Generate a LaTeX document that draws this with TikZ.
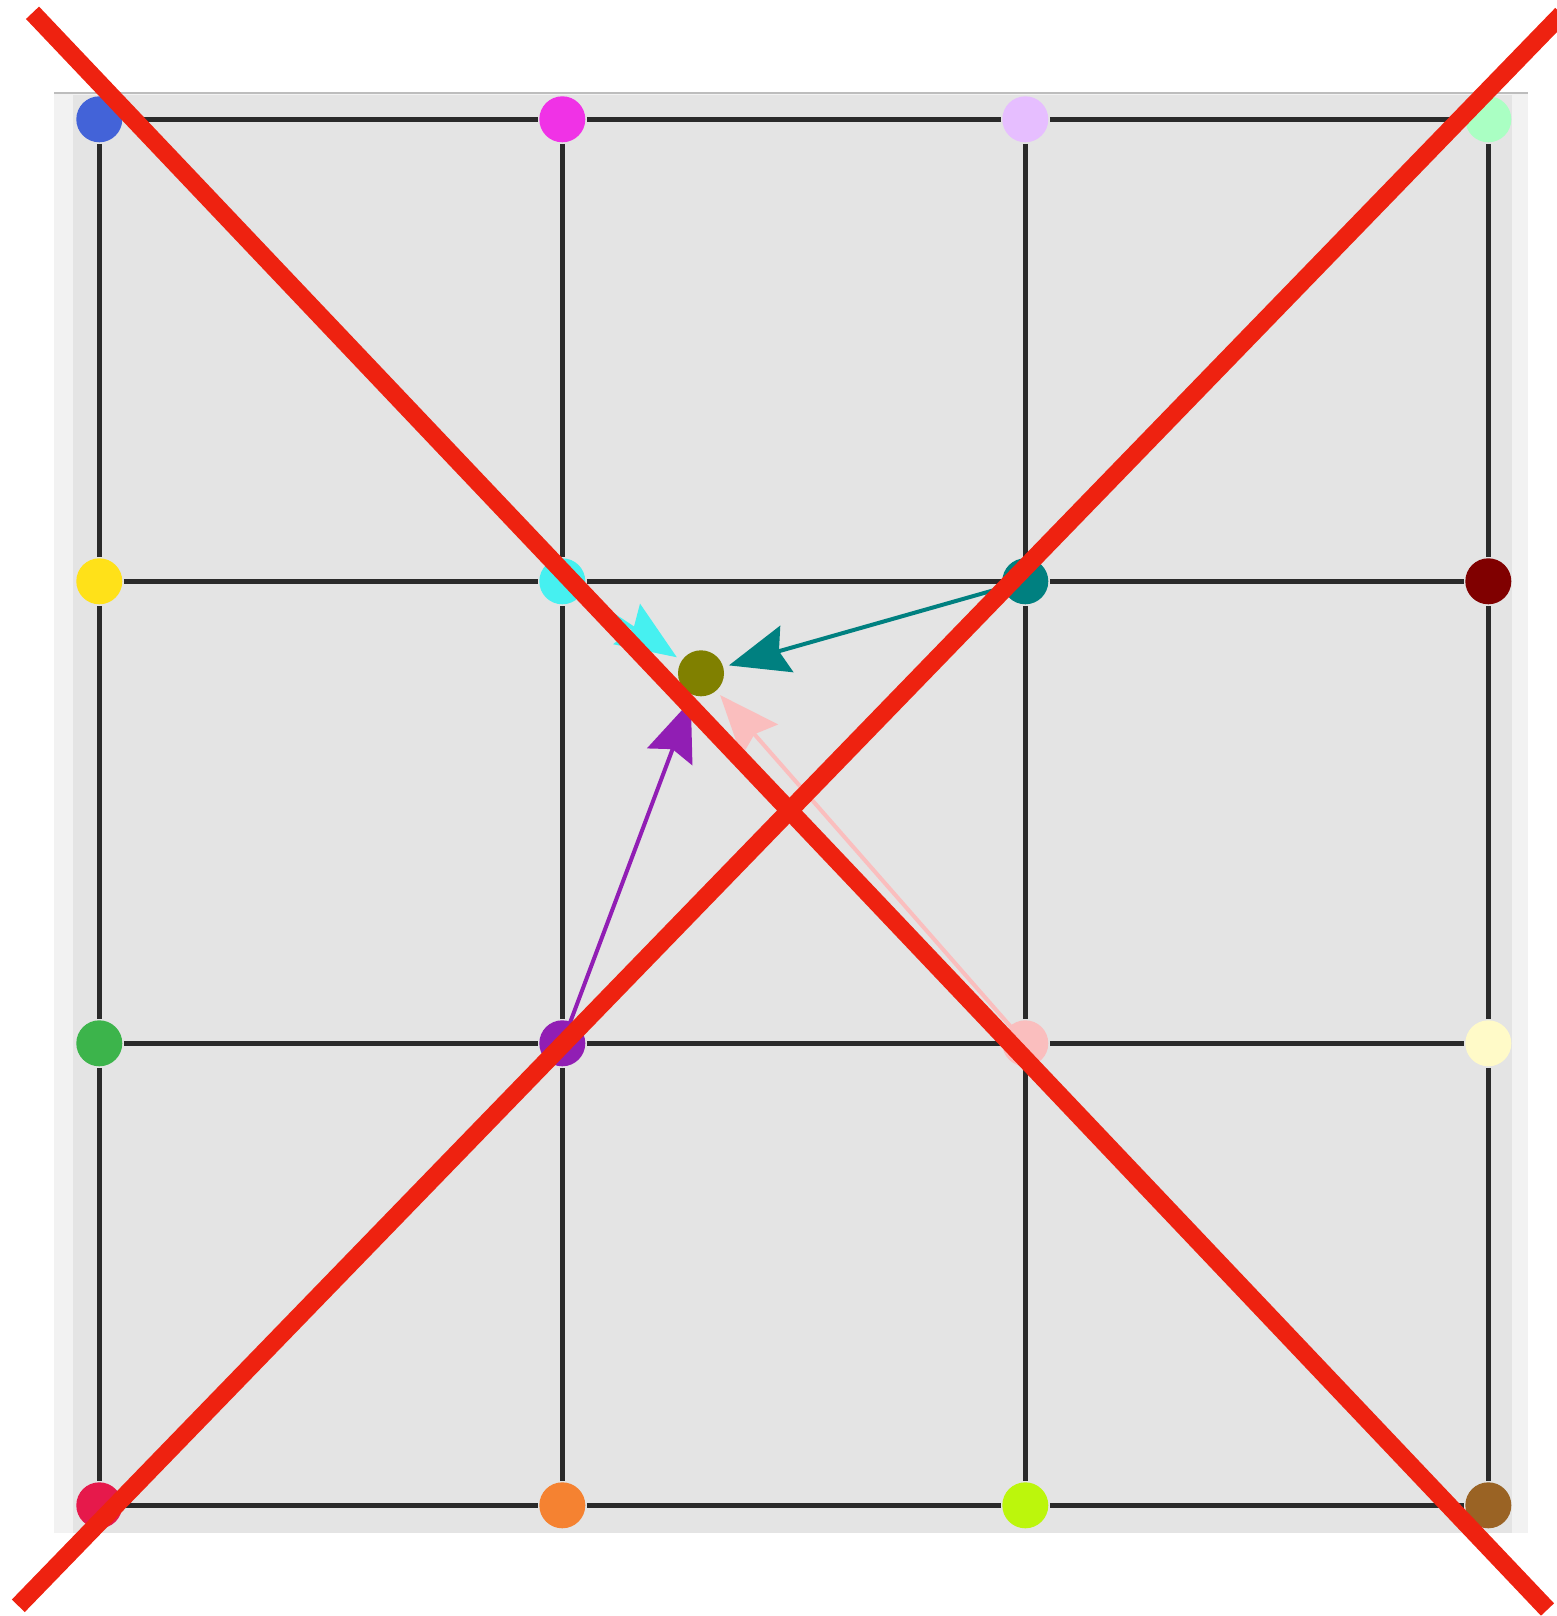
\documentclass[tikz,border=0pt]{standalone}
\usetikzlibrary{arrows.meta}
\definecolor{panelLight}{HTML}{F2F2F2}
\definecolor{panelGray}{HTML}{E4E4E4}
\definecolor{topLine}{HTML}{BDBDBD}
\definecolor{gridLine}{HTML}{2A2A2A}
\definecolor{crossRed}{RGB}{238,34,16}
\definecolor{cBlue}{HTML}{4363D8}
\definecolor{cMagenta}{HTML}{F032E6}
\definecolor{cLavender}{HTML}{E6BEFF}
\definecolor{cMint}{HTML}{AAFFC3}
\definecolor{cYellow}{HTML}{FFE119}
\definecolor{cCyan}{HTML}{46F0F0}
\definecolor{cTeal}{HTML}{008080}
\definecolor{cMaroon}{HTML}{800000}
\definecolor{cGreen}{HTML}{3CB44B}
\definecolor{cPurple}{HTML}{911EB4}
\definecolor{cPink}{HTML}{FABEBE}
\definecolor{cBeige}{HTML}{FFFAC8}
\definecolor{cCrimson}{HTML}{E6194B}
\definecolor{cOrange}{HTML}{F58231}
\definecolor{cLime}{HTML}{BCF60C}
\definecolor{cBrown}{HTML}{9A6324}
\definecolor{cOlive}{HTML}{808000}
\tikzset{
  dot/.style={circle, minimum size=46pt, inner sep=0pt, outer sep=1.5pt, draw=none},
  gridedge/.style={draw=gridLine, line width=5pt},
  flow/.style={line width=4pt, -{Stealth[length=60pt, width=48pt, inset=8pt]}, shorten >=4.5pt},
  redx/.style={draw=crossRed, line width=18pt}
}
\begin{document}
\begin{tikzpicture}[x=1pt, y=-1pt]
\useasboundingbox (0,0) rectangle (1557,1616);
\clip (0,0) rectangle (1557,1616);
% panel
\fill[panelLight] (54,93) rectangle (1528,1533);
\fill[panelGray] (73,95) rectangle (1512,1533);
\draw[topLine, line width=2.5pt] (54,93) -- (1528,93);
% dot positions
\path
 (99.3,119.3)   node[dot] (n00) {}
 (562.3,119.3)  node[dot] (n10) {}
 (1025.3,119.3) node[dot] (n20) {}
 (1488.3,119.3) node[dot] (n30) {}
 (99.3,581.3)   node[dot] (n01) {}
 (562.3,581.3)  node[dot] (n11) {}
 (1025.3,581.3) node[dot] (n21) {}
 (1488.3,581.3) node[dot] (n31) {}
 (99.3,1043.3)   node[dot] (n02) {}
 (562.3,1043.3)  node[dot] (n12) {}
 (1025.3,1043.3) node[dot] (n22) {}
 (1488.3,1043.3) node[dot] (n32) {}
 (99.3,1505.3)   node[dot] (n03) {}
 (562.3,1505.3)  node[dot] (n13) {}
 (1025.3,1505.3) node[dot] (n23) {}
 (1488.3,1505.3) node[dot] (n33) {}
 (701,673.3)     node[dot] (ol) {};
% grid edges
\foreach \r in {0,1,2,3}{
  \draw[gridedge] (n0\r) -- (n1\r);
  \draw[gridedge] (n1\r) -- (n2\r);
  \draw[gridedge] (n2\r) -- (n3\r);
  \draw[gridedge] (n\r0) -- (n\r1);
  \draw[gridedge] (n\r1) -- (n\r2);
  \draw[gridedge] (n\r2) -- (n\r3);
}
% arrows
\draw[flow, cCyan] (n11.center) -- (ol);
\draw[flow, cTeal] (n21.center) -- (ol);
\draw[flow, cPurple] (n12.center) -- (ol);
\draw[flow, cPink] (n22.center) -- (ol);
% dots fill
\fill[cBlue] (n00) circle (23pt);
\fill[cMagenta] (n10) circle (23pt);
\fill[cLavender] (n20) circle (23pt);
\fill[cMint] (n30) circle (23pt);
\fill[cYellow] (n01) circle (23pt);
\fill[cCyan] (n11) circle (23pt);
\fill[cTeal] (n21) circle (23pt);
\fill[cMaroon] (n31) circle (23pt);
\fill[cGreen] (n02) circle (23pt);
\fill[cPurple] (n12) circle (23pt);
\fill[cPink] (n22) circle (23pt);
\fill[cBeige] (n32) circle (23pt);
\fill[cCrimson] (n03) circle (23pt);
\fill[cOrange] (n13) circle (23pt);
\fill[cLime] (n23) circle (23pt);
\fill[cBrown] (n33) circle (23pt);
\fill[cOlive] (ol) circle (23pt);
% red cross
\coordinate (ra) at (32.5,12.8);
\coordinate (rb) at (1547.5,1609.5);
\coordinate (rc) at (18.3,1605.8);
\coordinate (rd) at (1561.7,14.2);
\draw[redx] (ra) -- (rb);
\draw[redx] (rc) -- (rd);
\end{tikzpicture}
\end{document}
